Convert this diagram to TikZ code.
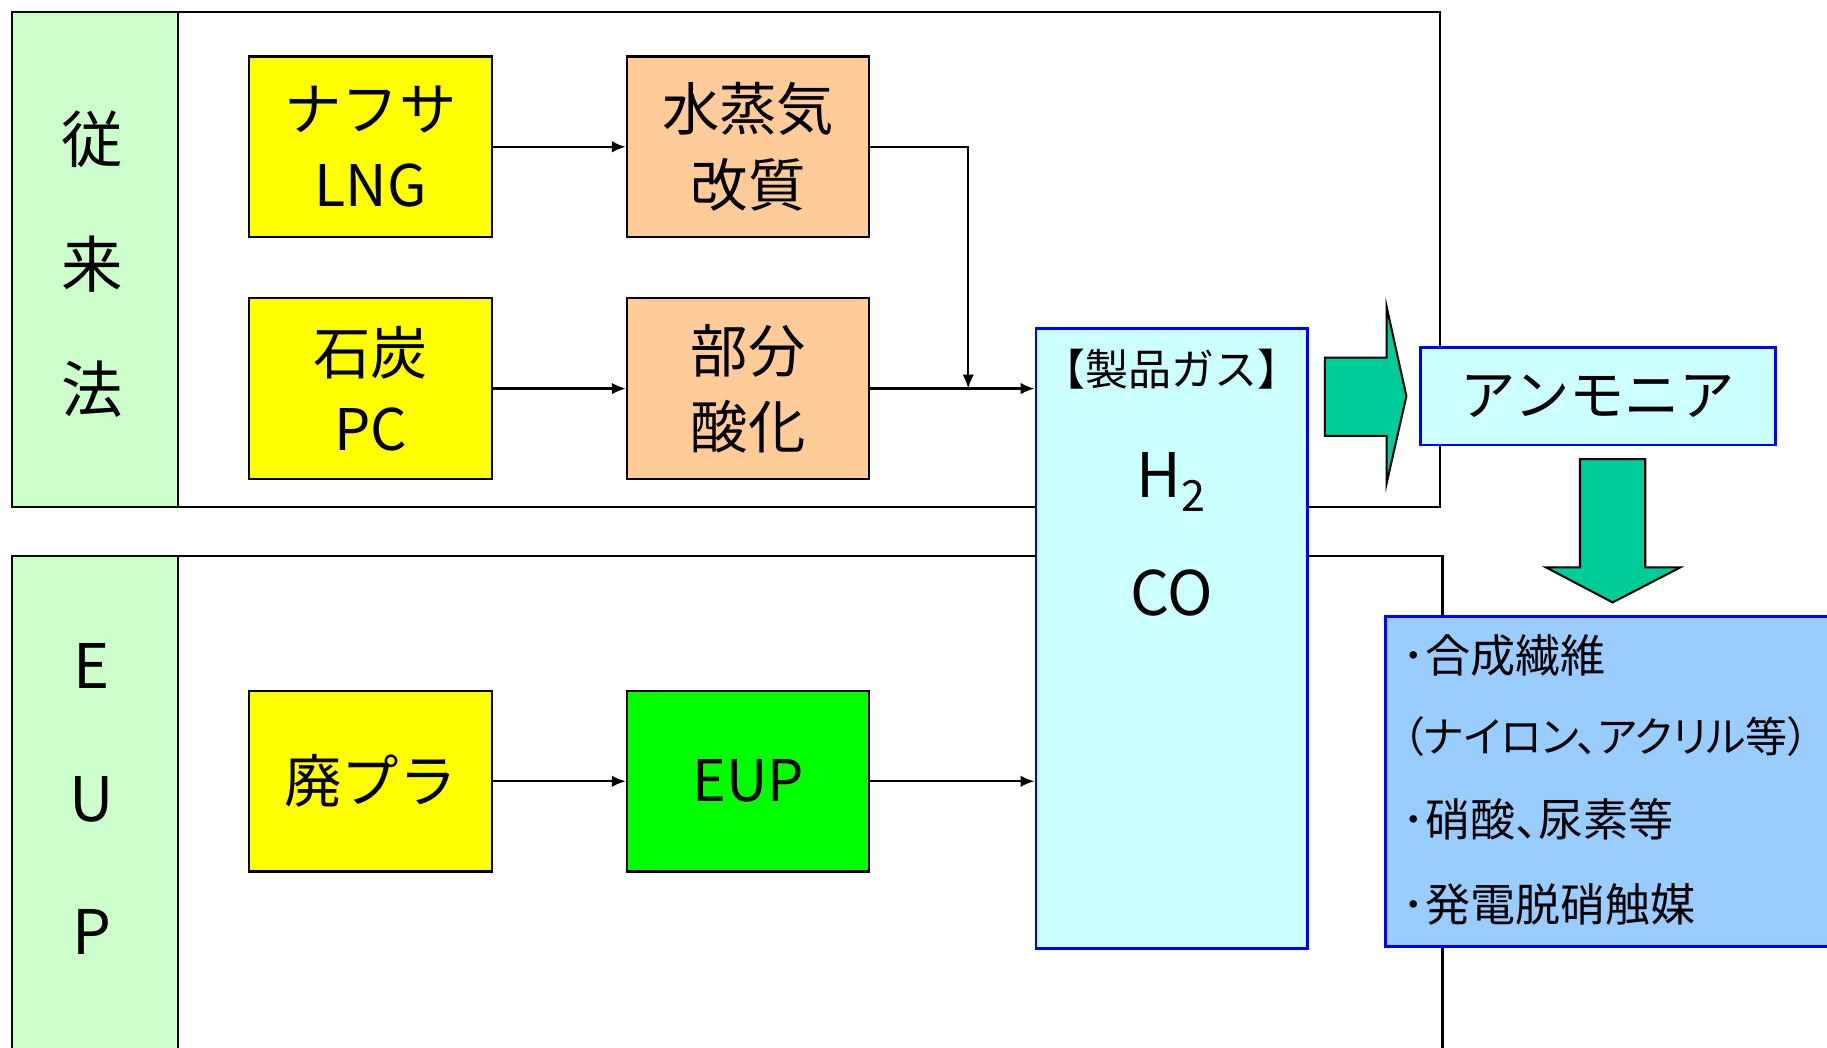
\documentclass[tikz,border=0pt]{standalone}
\usepackage{fontspec}
\setmainfont{Noto Sans CJK JP}
\newfontfamily\pfont[RawFeature=+palt]{Noto Sans CJK JP}
\usepackage{tikz}
\usetikzlibrary{positioning,arrows.meta}

\definecolor{boxyellow}{HTML}{FFFF00}
\definecolor{boxpeach}{HTML}{FFCC99}
\definecolor{boxgreen}{HTML}{00FF00}
\definecolor{sidegreen}{HTML}{CCFFCC}
\definecolor{gascyan}{HTML}{CCFFFF}
\definecolor{useblue}{HTML}{99CCFF}
\definecolor{bigarrow}{HTML}{00CC99}

\begin{document}
\begin{tikzpicture}[on grid,>={Latex[length=2.4mm,width=2mm]},line width=1.1pt]
    \tikzset{proc/.style={draw,rectangle,minimum width=4.16cm,minimum height=3.1cm,align=center,font=\fontsize{28}{37}\selectfont}}
    \tikzset{bluebox/.style={draw=blue,line width=1.3pt,rectangle}}
    \tikzset{panel/.style={draw,line width=1.1pt}}
    \tikzset{side/.style={align=center,font=\fontsize{30}{61}\selectfont}}
    \tikzset{usetext/.style={anchor=west,inner sep=0pt,font=\pfont\fontsize{22}{26}\selectfont}}
    \tikzset{fatarrow/.style={fill=bigarrow,draw,line width=1pt}}
    \useasboundingbox (0,0) rectangle (31.36,-17.98);
    \clip (0,0) rectangle (31.36,-17.98);
    % panels
    \draw[panel,fill=white] (0.2,-0.2) rectangle (24.72,-8.7);
    \draw[panel,fill=sidegreen] (0.2,-0.2) rectangle (3.06,-8.7);
    \draw[panel,fill=white] (0.2,-9.54) rectangle (24.76,-18.4);
    \draw[panel,fill=sidegreen] (0.2,-9.54) rectangle (3.06,-18.4);
    \node[side] (conv) at (1.58,-4.54) {従\\来\\法};
    \node[side,font=\fontsize{30}{65}\selectfont] (eupl) at (1.58,-13.72) {E\\U\\P};
    % process boxes
    \node[proc,fill=boxyellow] (naph) at (6.36,-2.52) {ナフサ\\LNG};
    \node[proc,fill=boxpeach] (steam) [right=6.48cm of naph] {水蒸気\\改質};
    \node[proc,fill=boxyellow] (coal) [below=4.15cm of naph] {石炭\\PC};
    \node[proc,fill=boxpeach] (part) [right=6.48cm of coal] {部分\\酸化};
    \node[proc,fill=boxyellow] (waste) [below=6.74cm of coal] {廃プラ};
    \node[proc,fill=boxgreen] (eup) [right=6.48cm of waste] {EUP};
    % product gas
    \node[bluebox,fill=gascyan,minimum width=4.66cm,minimum height=10.64cm] (gas) at (20.11,-10.96) {};
    \node[font=\fontsize{21}{23}\selectfont] (gtitle) [below=0.24cm of gas.north] {【製品ガス】};
    \node[font=\fontsize{30}{32}\selectfont] (h2) [below=1.94cm of gtitle] {H\textsubscript{2}};
    \node[font=\fontsize{30}{32}\selectfont] (co) [below=1.9cm of h2] {CO};
    \coordinate[right=1.68cm of part.east] (junc);
    \path[->]
    (naph) edge (steam)
    (coal) edge (part)
    (waste) edge (eup)
    (part.east) edge (gas.west |- part)
    (eup.east) edge (gas.west |- eup)
    (steam.east) edge[to path={-| (\tikztotarget)}] (junc)
    ;
    % ammonia and uses
    \node[bluebox,fill=gascyan,minimum width=6.1cm,minimum height=1.68cm,font=\fontsize{27}{30}\selectfont] (nh3) at (27.43,-6.8) {アンモニア};
    \node[bluebox,fill=useblue,minimum width=8cm,minimum height=5.66cm,anchor=north west] (uses) at (23.76,-10.56) {};
    \node[usetext] (use1) at (24.06,-11.26) {･合成繊維};
    \node[usetext,font=\pfont\fontsize{20.5}{24}\selectfont] (use2) at (24.06,-12.64) {（ナイロン、アクリル等）};
    \node[usetext] (use3) at (24.06,-14.06) {･硝酸、尿素等};
    \node[usetext] (use4) at (24.06,-15.52) {･発電脱硝触媒};
    % fat arrows
    \draw[fatarrow] (22.74,-6.14) -- (23.8,-6.14) -- (23.8,-5.26) -- (24.14,-6.8) -- (23.8,-8.3) -- (23.8,-7.48) -- (22.74,-7.48) -- cycle;
    \draw[fatarrow] (27.12,-7.88) -- (28.24,-7.88) -- (28.24,-9.74) -- (28.84,-9.74) -- (27.68,-10.34) -- (26.54,-9.74) -- (27.12,-9.74) -- cycle;
\end{tikzpicture}
\end{document}
